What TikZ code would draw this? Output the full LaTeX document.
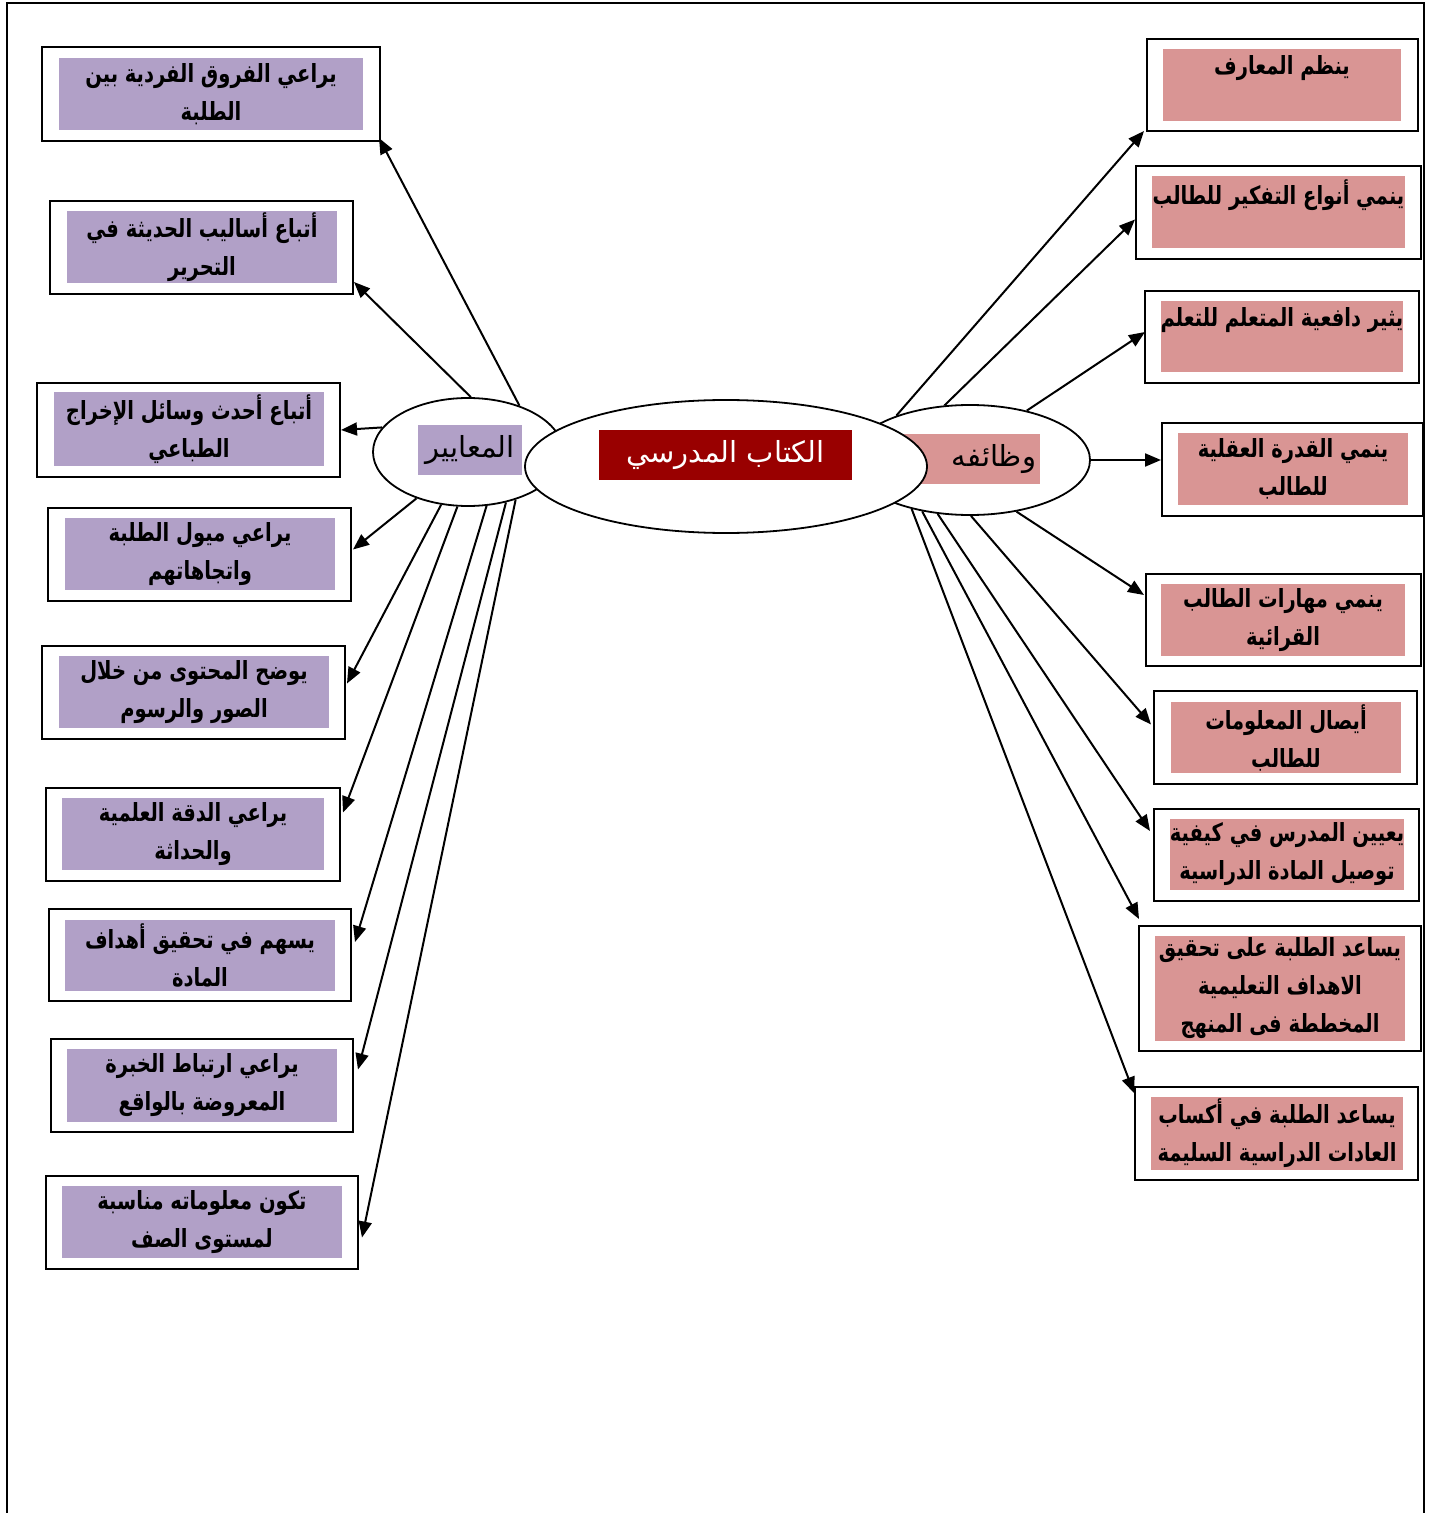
\documentclass[tikz,border=0pt]{standalone}
\usepackage{fontspec}
\newfontfamily\arabicfont[Script=Arabic]{DejaVu Sans}
\newfontfamily\arabicnarrow[Script=Arabic,FakeStretch=0.78]{DejaVu Sans}
\TeXXeTstate=1
\usetikzlibrary{shapes.geometric,arrows.meta,calc}
\definecolor{purpc}{HTML}{B1A0C7}
\definecolor{pinkc}{HTML}{D99594}
\definecolor{darkredc}{HTML}{990000}
\newcommand\AR[1]{\beginR#1\endR}
\newcommand\boxfont{\arabicnarrow\bfseries\fontsize{12.5}{19}\selectfont}
\newcommand\labfont{\arabicfont\fontsize{14.5}{17}\selectfont}
\begin{document}
\begin{tikzpicture}[x=0.5pt,y=-0.5pt,
  outerbox/.style={draw, line width=1pt, fill=white, inner sep=0pt},
  critfill/.style={fill=purpc, inner sep=0pt, align=center, font=\boxfont},
  funcfill/.style={fill=pinkc, inner sep=0pt, align=center, font=\boxfont},
  ell/.style={ellipse, draw, fill=white, line width=0.9pt, inner sep=0pt},
  conn/.style={line width=1pt, -{Triangle[length=8pt,width=6.5pt]}}
]
\useasboundingbox (0,0) rectangle (1432,1513);
% page frame
\draw[line width=1pt] (7,1513) -- (7,3) -- (1424,3) -- (1424,1513);

% central ellipses
\node[ell, minimum width=95pt, minimum height=54pt] (crit) at (468,452) {};
\node[ell, minimum width=120pt, minimum height=55pt] (func) at (970,460) {};
\node[fill=purpc, inner sep=0pt, minimum width=52pt, minimum height=25pt, font=\labfont] (critlab) at (470,450) {\AR{المعايير}};
\node[fill=pinkc, inner sep=2pt, text width=64pt, minimum height=25pt, align=right, font=\labfont] (funclab) at (972,459) {\AR{وظائفه}};
\node[ell, minimum width=201pt, minimum height=66.5pt] (main) at (726,466.5) {};
\node[fill=darkredc, text=white, inner sep=0pt, minimum width=126.5pt, minimum height=25pt, font=\labfont] (mainlab) at (725.5,455) {\AR{الكتاب المدرسي}};

% left boxes
\node[outerbox, minimum width=169pt, minimum height=47pt] (L1) at (211,94) {};
\node[critfill, minimum width=152pt, minimum height=36pt] (L1t) at (211,94) {\AR{يراعي الفروق الفردية بين}\\\AR{الطلبة}};
\node[outerbox, minimum width=151.5pt, minimum height=46.5pt] (L2) at (201.5,247.5) {};
\node[critfill, minimum width=135pt, minimum height=36pt] (L2t) at (202,247) {\AR{أتباع أساليب الحديثة في}\\\AR{التحرير}};
\node[outerbox, minimum width=151.5pt, minimum height=47pt] (L3) at (188.5,430) {};
\node[critfill, minimum width=135pt, minimum height=37pt] (L3t) at (189,429) {\AR{أتباع أحدث وسائل الإخراج}\\\AR{الطباعي}};
\node[outerbox, minimum width=151.5pt, minimum height=46.5pt] (L4) at (199.5,554.5) {};
\node[critfill, minimum width=135pt, minimum height=36pt] (L4t) at (200,554) {\AR{يراعي ميول الطلبة}\\\AR{واتجاهاتهم}};
\node[outerbox, minimum width=151.5pt, minimum height=46.5pt] (L5) at (193.5,692.5) {};
\node[critfill, minimum width=135pt, minimum height=36pt] (L5t) at (194,692) {\AR{يوضح المحتوى من خلال}\\\AR{الصور والرسوم}};
\node[outerbox, minimum width=147pt, minimum height=46.5pt] (L6) at (193,834.5) {};
\node[critfill, minimum width=131pt, minimum height=36pt] (L6t) at (193,834) {\AR{يراعي الدقة العلمية}\\\AR{والحداثة}};
\node[outerbox, minimum width=151pt, minimum height=46pt] (L7) at (200,955) {};
\node[critfill, minimum width=135pt, minimum height=35.5pt] (L7t) at (200,955.5) {\AR{يسهم في تحقيق أهداف}\\\AR{المادة}};
\node[outerbox, minimum width=151pt, minimum height=46.5pt] (L8) at (202,1085.5) {};
\node[critfill, minimum width=135pt, minimum height=36.5pt] (L8t) at (202,1085.5) {\AR{يراعي ارتباط الخبرة}\\\AR{المعروضة بالواقع}};
\node[outerbox, minimum width=156pt, minimum height=46.5pt] (L9) at (202,1222.5) {};
\node[critfill, minimum width=140pt, minimum height=36pt] (L9t) at (202,1222) {\AR{تكون معلوماته مناسبة}\\\AR{لمستوى الصف}};

% right boxes
\node[outerbox, minimum width=135.5pt, minimum height=46pt] (R1) at (1282.5,85) {};
\node[funcfill, minimum width=119pt, minimum height=36pt] (R1t) at (1282,85) {\AR{ينظم المعارف}\\[-5pt]\strut};
\node[outerbox, minimum width=142.5pt, minimum height=46.5pt] (R2) at (1278.5,212.5) {};
\node[funcfill, minimum width=126.5pt, minimum height=36pt] (R2t) at (1278.5,212) {\AR{ينمي أنواع التفكير للطالب}\\[-5pt]\strut};
\node[outerbox, minimum width=137pt, minimum height=46pt] (R3) at (1282,337) {};
\node[funcfill, minimum width=121pt, minimum height=35.5pt] (R3t) at (1282,336.5) {\AR{يثير دافعية المتعلم للتعلم}\\[-5pt]\strut};
\node[outerbox, minimum width=130.5pt, minimum height=46.5pt] (R4) at (1292.5,469.5) {};
\node[funcfill, minimum width=115pt, minimum height=36pt] (R4t) at (1293,469) {\AR{ينمي القدرة العقلية}\\\AR{للطالب}};
\node[outerbox, minimum width=137.5pt, minimum height=46pt] (R5) at (1283.5,620) {};
\node[funcfill, minimum width=122pt, minimum height=36pt] (R5t) at (1283,620) {\AR{ينمي مهارات الطالب}\\\AR{القرائية}};
\node[outerbox, minimum width=131.5pt, minimum height=46.5pt] (R6) at (1285.5,737.5) {};
\node[funcfill, minimum width=115pt, minimum height=35.5pt] (R6t) at (1286,737.5) {\AR{أيصال المعلومات}\\\AR{للطالب}};
\node[outerbox, minimum width=132.5pt, minimum height=46pt] (R7) at (1286.5,855) {};
\node[funcfill, minimum width=116pt, minimum height=35.5pt] (R7t) at (1287,854.5) {\AR{يعيين المدرس في كيفية}\\\AR{توصيل المادة الدراسية}};
\node[outerbox, minimum width=141pt, minimum height=62.5pt] (R8) at (1280,988.5) {};
\node[funcfill, minimum width=125pt, minimum height=52.5pt] (R8t) at (1280,988.5) {\AR{يساعد الطلبة على تحقيق}\\\AR{الاهداف التعليمية}\\\AR{المخططة فى المنهج}};
\node[outerbox, minimum width=141.5pt, minimum height=46.5pt] (R9) at (1276.5,1133.5) {};
\node[funcfill, minimum width=126pt, minimum height=36.5pt] (R9t) at (1277,1133.5) {\AR{يساعد الطلبة في أكساب}\\\AR{العادات الدراسية السليمة}};

% connectors: criteria
\draw[conn] (crit.42) -- ($(L1.south east)+(-2,-4)$);
\draw[conn] (crit.87) -- ($(L2.south east)+(0,-13)$);
\draw[conn] (crit.164) -- (L3.east);
\draw[conn] (crit.-138) -- ($(L4.east)+(1,-5)$);
\draw[conn] (crit.-117) -- ($(L5.east)+(1,-9)$);
\draw[conn] (crit.-101) -- ($(L6.east)+(2,-22)$);
\draw[conn] (crit.-71) -- ($(L7.east)+(3,-13)$);
\draw[conn] (crit.-53) -- ($(L8.east)+(4,-16)$);
\draw[conn] (crit.-45) -- ($(L9.east)+(3,15)$);

% connectors: functions
\draw[conn] (func.149.5) -- ($(R1.south west)+(-2,-1)$);
\draw[conn] (func.115) -- ($(R2.west)+(0,7)$);
\draw[conn] (func.41.7) -- ($(R3.west)+(1,-5)$);
\draw[conn] (func.east) -- (func.east -| R4.west);
\draw[conn] (func.-48) -- ($(R5.west)+(-1,-25)$);
\draw[conn] (func.-89) -- ($(R6.west)+(-2,-13)$);
\draw[conn] (func.-121) -- ($(R7.west)+(-3,-24)$);
\draw[conn] (func.-133.4) -- ($(R8.north west)+(1,-6)$);
\draw[conn] (func.-140) -- ($(R9.north west)+(0,7)$);
\end{tikzpicture}
\end{document}
